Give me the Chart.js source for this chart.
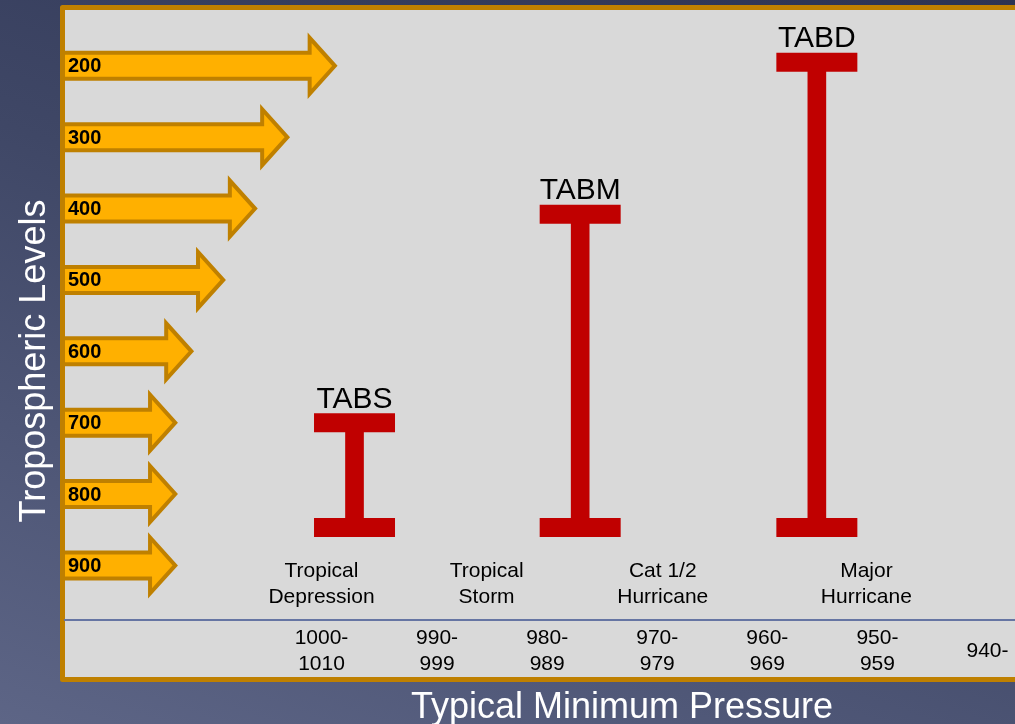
<!DOCTYPE html>
<html>
<head>
<meta charset="utf-8">
<script src="https://cdn.jsdelivr.net/npm/chart.js@4.4.1/dist/chart.umd.min.js"></script>
<style>
  html, body { margin: 0; padding: 0; }
  body {
    width: 1015px; height: 724px; overflow: hidden;
    background: linear-gradient(200deg, #2c3353 0%, #3f4766 45%, #5d6586 100%);
  }
</style>
</head>
<body>
<canvas id="chart" width="1015" height="724"></canvas>
<script>
// tropospheric levels (hPa) and how far each arrow reaches
const levels = [200, 300, 400, 500, 600, 700, 800, 900];
const arrowReach = [28.7, 23.7, 20.3, 16.95, 13.6, 11.9, 11.9, 11.9];

// x axis: typical minimum pressure
const pressureMid = [1005, 994.5, 984.5, 974.5, 964.5, 954.5, 944.5];
const pressureLabels = [['1000-', '1010'], ['990-', '999'], ['980-', '989'], ['970-', '979'],
  ['960-', '969'], ['950-', '959'], ['940-']];

// storm categories along the pressure axis
const stormTypes = [['Tropical', 'Depression'], ['Tropical', 'Storm'], ['Cat 1/2', 'Hurricane'], ['Major', 'Hurricane']];
const stormPressure = [1005, 990, 974, 955.5];

// TAB layers: pressure position and vertical extent (hPa)
const tabNames = ['TABS', 'TABM', 'TABD'];
const tabPressure = [1002, 981.5, 960];
const tabTop = [700, 408, 195];
const tabBottom = [847, 847, 847];

const RED = '#c00000';
const GOLD = '#bf8000';
const FONT = "'Liberation Sans', Arial, sans-serif";
Chart.defaults.font.family = FONT;

const panelPlugin = {
  id: 'panel',
  beforeDraw(chart) {
    const ctx = chart.ctx, ca = chart.chartArea;
    ctx.save();
    // gray panel with gold frame
    ctx.fillStyle = '#d9d9d9';
    ctx.fillRect(ca.left, ca.top, 1100, 677 - ca.top);
    ctx.strokeStyle = GOLD;
    ctx.lineWidth = 5;
    ctx.lineJoin = 'round';
    ctx.strokeRect(ca.left - 2.5, ca.top - 2.5, 1100, 677 - ca.top + 5);

    // axis titles
    ctx.fillStyle = '#ffffff';
    ctx.font = '36px ' + FONT;
    ctx.textAlign = 'center';
    ctx.textBaseline = 'alphabetic';
    ctx.fillText('Typical Minimum Pressure', 622, 718);
    ctx.translate(45, 361);
    ctx.rotate(-Math.PI / 2);
    ctx.fillText('Tropospheric Levels', 0, 0);
    ctx.restore();
  },
  beforeDatasetsDraw(chart) {
    const ctx = chart.ctx, ca = chart.chartArea;
    const y = chart.scales.y, x = chart.scales.x, x2 = chart.scales.x2;
    ctx.save();
    ctx.beginPath();
    ctx.rect(ca.left, ca.top, ca.right - ca.left, ca.bottom - ca.top);
    ctx.clip();
    levels.forEach((lev, i) => {
      const cy = y.getPixelForValue(lev);
      const tip = x2.getPixelForValue(arrowReach[i]) - 2.8;
      const base = tip - 25.2;
      ctx.beginPath();
      ctx.moveTo(ca.left - 10, cy - 13);
      ctx.lineTo(base, cy - 13);
      ctx.lineTo(base, cy - 28);
      ctx.lineTo(tip, cy);
      ctx.lineTo(base, cy + 28);
      ctx.lineTo(base, cy + 13);
      ctx.lineTo(ca.left - 10, cy + 13);
      ctx.closePath();
      ctx.fillStyle = '#ffb000';
      ctx.fill();
      ctx.lineWidth = 4;
      ctx.lineJoin = 'miter';
      ctx.strokeStyle = GOLD;
      ctx.stroke();
      ctx.fillStyle = '#000';
      ctx.font = 'bold 20px ' + FONT;
      ctx.textAlign = 'left';
      ctx.textBaseline = 'middle';
      ctx.fillText(String(lev), ca.left + 3, cy + 1);
    });
    ctx.restore();

    // storm category names
    ctx.save();
    ctx.fillStyle = '#000';
    ctx.font = '21px ' + FONT;
    ctx.textAlign = 'center';
    ctx.textBaseline = 'middle';
    stormTypes.forEach((lines, i) => {
      const px = x.getPixelForValue(stormPressure[i]);
      ctx.fillText(lines[0], px, ca.bottom - 49);
      ctx.fillText(lines[1], px, ca.bottom - 23);
    });
    ctx.restore();
  },
  afterDatasetsDraw(chart) {
    const ctx = chart.ctx;
    const y = chart.scales.y, x = chart.scales.x;
    ctx.save();
    ctx.fillStyle = '#000';
    ctx.font = '30px ' + FONT;
    ctx.textAlign = 'center';
    ctx.textBaseline = 'alphabetic';
    tabNames.forEach((name, i) => {
      ctx.fillText(name, x.getPixelForValue(tabPressure[i]), y.getPixelForValue(tabTop[i]) - 15);
    });
    ctx.restore();
  }
};

new Chart(document.getElementById('chart'), {
  type: 'bar',
  data: {
    datasets: [
      {
        type: 'bar',
        data: tabPressure.map((p, i) => ({ x: p, y: [tabBottom[i], tabTop[i]] })),
        backgroundColor: RED,
        borderWidth: 0,
        barThickness: 18
      },
      {
        type: 'scatter',
        data: tabPressure.flatMap((p, i) => [{ x: p, y: tabTop[i] }, { x: p, y: tabBottom[i] }]),
        pointStyle: 'line',
        pointRadius: 40.5,
        pointHoverRadius: 40.5,
        pointBorderWidth: 19,
        pointHoverBorderWidth: 19,
        pointBorderColor: RED,
        pointBackgroundColor: RED
      }
    ]
  },
  options: {
    responsive: false,
    animation: false,
    events: [],
    layout: { autoPadding: false, padding: { left: 65, top: 10, right: 0, bottom: 34 } },
    plugins: { legend: { display: false }, tooltip: { enabled: false } },
    scales: {
      x: {
        type: 'linear',
        reverse: true,
        min: 942,
        max: 1028.3,
        offset: false,
        afterBuildTicks: s => { s.ticks = pressureMid.map(v => ({ value: v })); },
        afterFit: s => { s.height = 70; s.paddingLeft = 0; s.paddingRight = 0; },
        ticks: {
          callback: (v, i) => pressureLabels[i],
          color: '#000',
          font: { size: 21, lineHeight: 1.24 },
          padding: 18,
          crossAlign: 'center',
          maxRotation: 0,
          autoSkip: false
        },
        grid: { display: false, drawTicks: false },
        border: { display: true, color: '#6675a3', width: 2 }
      },
      // arrow reach, laid out with the chart area but drawn invisibly
      x2: {
        type: 'linear',
        position: 'top',
        min: 0,
        max: 100,
        offset: false,
        afterFit: s => { s.height = 0; s.paddingLeft = 0; s.paddingRight = 0; },
        ticks: { display: false },
        grid: { display: false, drawTicks: false, offset: false },
        border: { display: false }
      },
      y: { type: 'linear', reverse: true, min: 121.8, max: 976.5, display: false }
    }
  },
  plugins: [panelPlugin]
});
</script>
</body>
</html>
